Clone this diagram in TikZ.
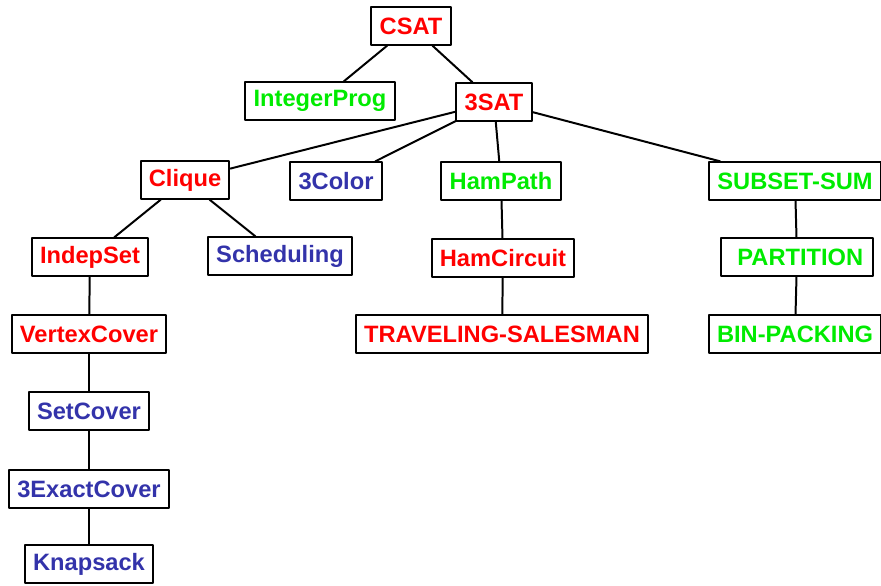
\documentclass[tikz,border=0pt]{standalone}
\usepackage{fontspec}
\setmainfont{Liberation Sans}
\definecolor{npred}{RGB}{255,0,0}
\definecolor{npgreen}{RGB}{0,235,0}
\definecolor{npblue}{RGB}{51,51,170}
\tikzset{
  prob/.style={draw,line width=1.7pt,inner xsep=0.25cm,minimum height=1.12cm,
    font=\fontsize{20.2}{23}\selectfont\bfseries},
  link/.style={line width=1.7pt}
}

\begin{document}
\begin{tikzpicture}[x=0.03cm,y=-0.03cm,line cap=round,line join=round]
  \useasboundingbox (0,0) rectangle (881,585);
  % row 0 and 1
  \node[prob,text=npred]   (csat)    at (411,26)  {CSAT};
  \node[prob,text=npgreen] (intprog) at (320,101) {IntegerProg};
  \node[prob,text=npred]   (sat3)    at (494,102) {3SAT};
  % row 2
  \node[prob,text=npred]   (clique)  at (185,180) {Clique};
  \node[prob,text=npblue]  (color3)  at (336,181) {3Color};
  \node[prob,text=npgreen] (hampath) at (501,181) {HamPath};
  \node[prob,text=npgreen] (subsum)  at (795,181) {SUBSET-SUM};
  % row 3
  \node[prob,text=npred]   (indep)   at (90,257)  {IndepSet};
  \node[prob,text=npblue]  (sched)   at (280,256) {Scheduling};
  \node[prob,text=npred]   (hamcirc) at (503,258) {HamCircuit};
  \node[prob,text=npgreen,minimum width=4.55cm,text depth=0pt] (part) at (797,257) {\hspace{0.2cm}PARTITION};
  % row 4 and below
  \node[prob,text=npred]   (vcover)  at (89,334)  {VertexCover};
  \node[prob,text=npred]   (tsp)     at (502,334) {TRAVELING-SALESMAN};
  \node[prob,text=npgreen] (binpack) at (795,334) {BIN-PACKING};
  \node[prob,text=npblue]  (setcov)  at (89,411)  {SetCover};
  \node[prob,text=npblue]  (exact3)  at (89,489)  {3ExactCover};
  \node[prob,text=npblue]  (knap)    at (89,564)  {Knapsack};

  \foreach \a/\b in {csat/intprog,csat/sat3,sat3/clique,sat3/color3,
      sat3/hampath,sat3/subsum,clique/indep,clique/sched,hampath/hamcirc,
      hamcirc/tsp,subsum/part,part/binpack,indep/vcover,vcover/setcov,
      setcov/exact3,exact3/knap} {
    \draw[link] (\a) -- (\b);
  }
\end{tikzpicture}
\end{document}
